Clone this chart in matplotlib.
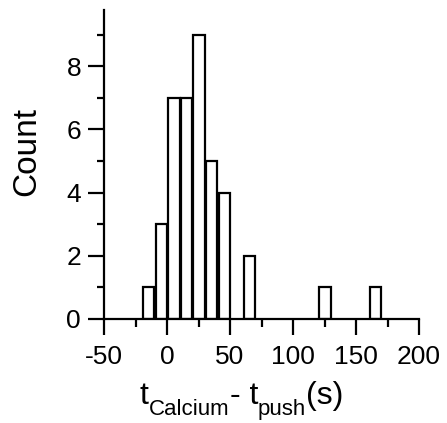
import numpy as np
import matplotlib
matplotlib.use("Agg")
import matplotlib.pyplot as plt
from matplotlib.ticker import MultipleLocator

# histogram bins (centre of each bar) and counts
bin_centres = [-14.5, -4.5, 5.5, 15.5, 25.5, 35.5, 45.5, 65.5, 125.5, 165.5]
counts = [1, 3, 7, 7, 9, 5, 4, 2, 1, 1]
x_ticks = [-50, 0, 50, 100, 150, 200]
y_ticks = [0, 2, 4, 6, 8]

plt.rcParams['font.family'] = ['Liberation Sans', 'DejaVu Sans']
plt.rcParams['axes.unicode_minus'] = False

W, H = 447, 423
fig = plt.figure(figsize=(W / 100, H / 100), dpi=100)
ax = fig.add_axes([104 / W, 1 - 319 / H, 315 / W, 309 / H])

# bars
ax.bar(bin_centres, counts, width=9, color='white', edgecolor='black',
       linewidth=1.6, zorder=3)

ax.set_xlim(-50, 200)
ax.set_ylim(0, 9.78)
ax.set_xticks(x_ticks)
ax.set_yticks(y_ticks)
ax.xaxis.set_minor_locator(MultipleLocator(25))
ax.yaxis.set_minor_locator(MultipleLocator(1))

for s in ['top', 'right']:
    ax.spines[s].set_visible(False)
for s in ['left', 'bottom']:
    ax.spines[s].set_linewidth(1.6)
    ax.spines[s].set_zorder(4)

ax.tick_params(axis='x', which='major', length=11.5, width=1.6, pad=7, labelsize=19)
ax.tick_params(axis='x', which='minor', length=5.5, width=1.6)
ax.tick_params(axis='y', which='major', length=11.5, width=1.6, pad=5, labelsize=19)
ax.tick_params(axis='y', which='minor', length=5, width=1.6)

fig.text(27 / W, 1 - 151 / H, 'Count', fontsize=24, rotation=90,
         ha='center', va='center')

# x label: t_Calcium - t_push (s), built piece by piece for larger subscripts
main_fs, sub_fs = 23, 16
base_y, sub_y = H - 404, H - 415   # baselines in figure pixels
pieces = [('t', main_fs, base_y), ('Calcium', sub_fs, sub_y),
          ('- t', main_fs, base_y), ('push', sub_fs, sub_y),
          ('(s)', main_fs, base_y)]
prev = fig.text(140 / W, base_y / H, pieces[0][0], fontsize=main_fs,
                ha='left', va='baseline')
for txt, fs, y in pieces[1:]:
    prev = ax.annotate(txt, xy=(1, y), xycoords=(prev, 'figure pixels'),
                       fontsize=fs, ha='left', va='baseline',
                       annotation_clip=False)

fig.savefig('out.png', dpi=100)
